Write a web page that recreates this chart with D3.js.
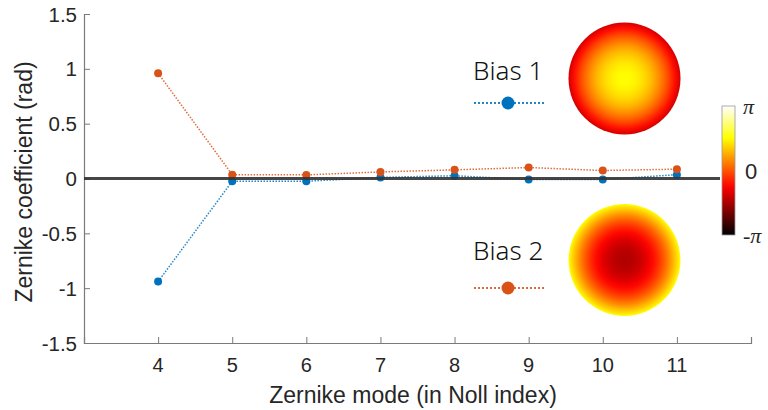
<!DOCTYPE html>
<html>
<head>
<meta charset="utf-8">
<script src="https://cdn.jsdelivr.net/npm/d3@7"></script>
<style>
  body { margin: 0; background: #fff; }
  svg { display: block; }
</style>
</head>
<body>
<script>
// Noll indices on the x axis
var modes = [4, 5, 6, 7, 8, 9, 10, 11];
// Zernike coefficients (rad)
var bias1 = [-0.94, -0.025, -0.025, 0.01, 0.025, -0.01, -0.01, 0.035];
var bias2 = [0.96, 0.035, 0.033, 0.06, 0.079, 0.10, 0.073, 0.085];
var seriesNames = ["Bias 1", "Bias 2"];
var seriesColours = ["#0072BD", "#D95319"];
var yTicks = [-1.5, -1, -0.5, 0, 0.5, 1, 1.5];
// phase map of each bias, in hot-colormap units (0..1): centre and rim
var phaseCentre = [0.75, 0.26];
var phaseRim = [0.31, 0.76];
var barLabels = ["\u03c0", "0", "-\u03c0"];

var width = 768, height = 410;
var margin = {top: 14, right: 17, bottom: 67, left: 84};

var svg = d3.select("body").append("svg")
  .attr("width", width)
  .attr("height", height);

var x = d3.scaleLinear().domain([3, 12]).range([margin.left, width - margin.right]);
var y = d3.scaleLinear().domain([-1.5, 1.5]).range([height - margin.bottom, margin.top]);

// MATLAB "hot" colormap
function hot(t) {
  var r = Math.max(0, Math.min(1, t * 8 / 3));
  var g = Math.max(0, Math.min(1, t * 8 / 3 - 1));
  var b = Math.max(0, Math.min(1, t * 4 - 3));
  return d3.rgb(r * 255, g * 255, b * 255).formatHex();
}

var defs = svg.append("defs");

// axes, ticks pointing inward like matlab
var tickCol = "#262626";
svg.append("g")
  .attr("transform", "translate(0," + y(-1.5) + ")")
  .call(d3.axisTop(x)
    .tickValues(d3.range(3, 13))
    .tickSize(6)
    .tickFormat(""));
svg.append("g")
  .attr("transform", "translate(" + x(3) + ",0)")
  .call(d3.axisRight(y).tickValues(yTicks).tickSize(6).tickFormat(""));

svg.selectAll(".domain").attr("stroke", "#7a7a7a").attr("stroke-width", 1.2);
svg.selectAll(".tick line").attr("stroke", "#7a7a7a");

svg.append("g").selectAll("text")
  .data(modes)
  .enter().append("text")
    .attr("x", function(d) { return x(d); })
    .attr("y", 372)
    .attr("text-anchor", "middle")
    .attr("font-family", "Liberation Sans, Arial, sans-serif")
    .attr("font-size", 20)
    .attr("fill", tickCol)
    .text(function(d) { return d; });

svg.append("g").selectAll("text")
  .data(yTicks)
  .enter().append("text")
    .attr("x", x(3) - 7)
    .attr("y", function(d) { return y(d) + 7.5; })
    .attr("text-anchor", "end")
    .attr("font-family", "Liberation Sans, Arial, sans-serif")
    .attr("font-size", 20.5)
    .attr("fill", tickCol)
    .text(function(d) { return d; });

svg.append("text")
  .attr("x", 413)
  .attr("y", 403)
  .attr("text-anchor", "middle")
  .attr("font-family", "Liberation Sans, Arial, sans-serif")
  .attr("font-size", 23)
  .attr("fill", tickCol)
  .text("Zernike mode (in Noll index)");

svg.append("text")
  .attr("transform", "translate(32,182) rotate(-90)")
  .attr("text-anchor", "middle")
  .attr("font-family", "Liberation Sans, Arial, sans-serif")
  .attr("font-size", 23)
  .attr("fill", tickCol)
  .text("Zernike coefficient (rad)");

// data series
var series = [bias1, bias2];
var line = d3.line()
  .x(function(d, i) { return x(modes[i]); })
  .y(function(d) { return y(d); });

series.forEach(function(vals, k) {
  svg.append("path")
    .datum(vals)
    .attr("d", line)
    .attr("fill", "none")
    .attr("stroke", seriesColours[k])
    .attr("stroke-width", 1.5)
    .attr("stroke-dasharray", "1.5,1.5")
    .attr("opacity", 0.85);
  svg.append("g").selectAll("circle")
    .data(vals)
    .enter().append("circle")
      .attr("cx", function(d, i) { return x(modes[i]); })
      .attr("cy", function(d) { return y(d); })
      .attr("r", 4)
      .attr("fill", seriesColours[k]);
});

// zero line
svg.append("line")
  .attr("x1", x(3)).attr("x2", 720)
  .attr("y1", y(0)).attr("y2", y(0))
  .attr("stroke", "#333")
  .attr("stroke-width", 2.8)
  .attr("opacity", 0.9);

// legend entries with the phase maps
var legendY = [80, 260];
var lineY = [103, 288];
var discY = [78.5, 260];
seriesNames.forEach(function(name, k) {
  svg.append("text")
    .attr("x", 473)
    .attr("y", legendY[k])
    .attr("font-family", "Noto Sans, sans-serif")
    .attr("font-size", 26)
    .attr("font-weight", 300)
    .attr("fill", "#111")
    .text(name);
  svg.append("line")
    .attr("x1", 474).attr("x2", 544)
    .attr("y1", lineY[k]).attr("y2", lineY[k])
    .attr("stroke", seriesColours[k])
    .attr("stroke-width", 2)
    .attr("stroke-dasharray", "2,2")
    .attr("opacity", 0.85);
  svg.append("circle")
    .attr("cx", 508).attr("cy", lineY[k])
    .attr("r", 6.5)
    .attr("fill", seriesColours[k]);

  // defocus-like phase map: value goes with r^2
  var grad = defs.append("radialGradient").attr("id", "phase" + k);
  d3.range(0, 1.0001, 0.1).forEach(function(r) {
    var t = phaseCentre[k] + (phaseRim[k] - phaseCentre[k]) * r * r;
    grad.append("stop")
      .attr("offset", r)
      .attr("stop-color", hot(t));
  });
  svg.append("circle")
    .attr("cx", 624.5).attr("cy", discY[k])
    .attr("r", 56)
    .attr("fill", "url(#phase" + k + ")");
});

// colorbar
var cbar = defs.append("linearGradient")
  .attr("id", "cbar")
  .attr("x1", 0).attr("y1", 1).attr("x2", 0).attr("y2", 0);
d3.range(0, 1.0001, 0.05).forEach(function(t) {
  cbar.append("stop").attr("offset", t).attr("stop-color", hot(t));
});
var cbY = d3.scaleLinear().domain([0, 2]).range([106, 235]);
svg.append("rect")
  .attr("x", 722).attr("y", cbY(0))
  .attr("width", 13).attr("height", cbY(2) - cbY(0))
  .attr("fill", "url(#cbar)")
  .attr("stroke", "#999")
  .attr("stroke-width", 0.8);
svg.append("g").selectAll("text")
  .data(barLabels)
  .enter().append("text")
    .attr("x", function(d, i) { return i == 1 ? 745 : 743; })
    .attr("y", function(d, i) { return cbY(i) + 8; })
    .attr("font-family", function(d, i) { return i == 1 ? "Liberation Sans, sans-serif" : "Liberation Serif, serif"; })
    .attr("font-style", function(d, i) { return i == 1 ? "normal" : "italic"; })
    .attr("font-size", 22)
    .attr("fill", tickCol)
    .text(function(d) { return d; });
</script>
</body>
</html>
